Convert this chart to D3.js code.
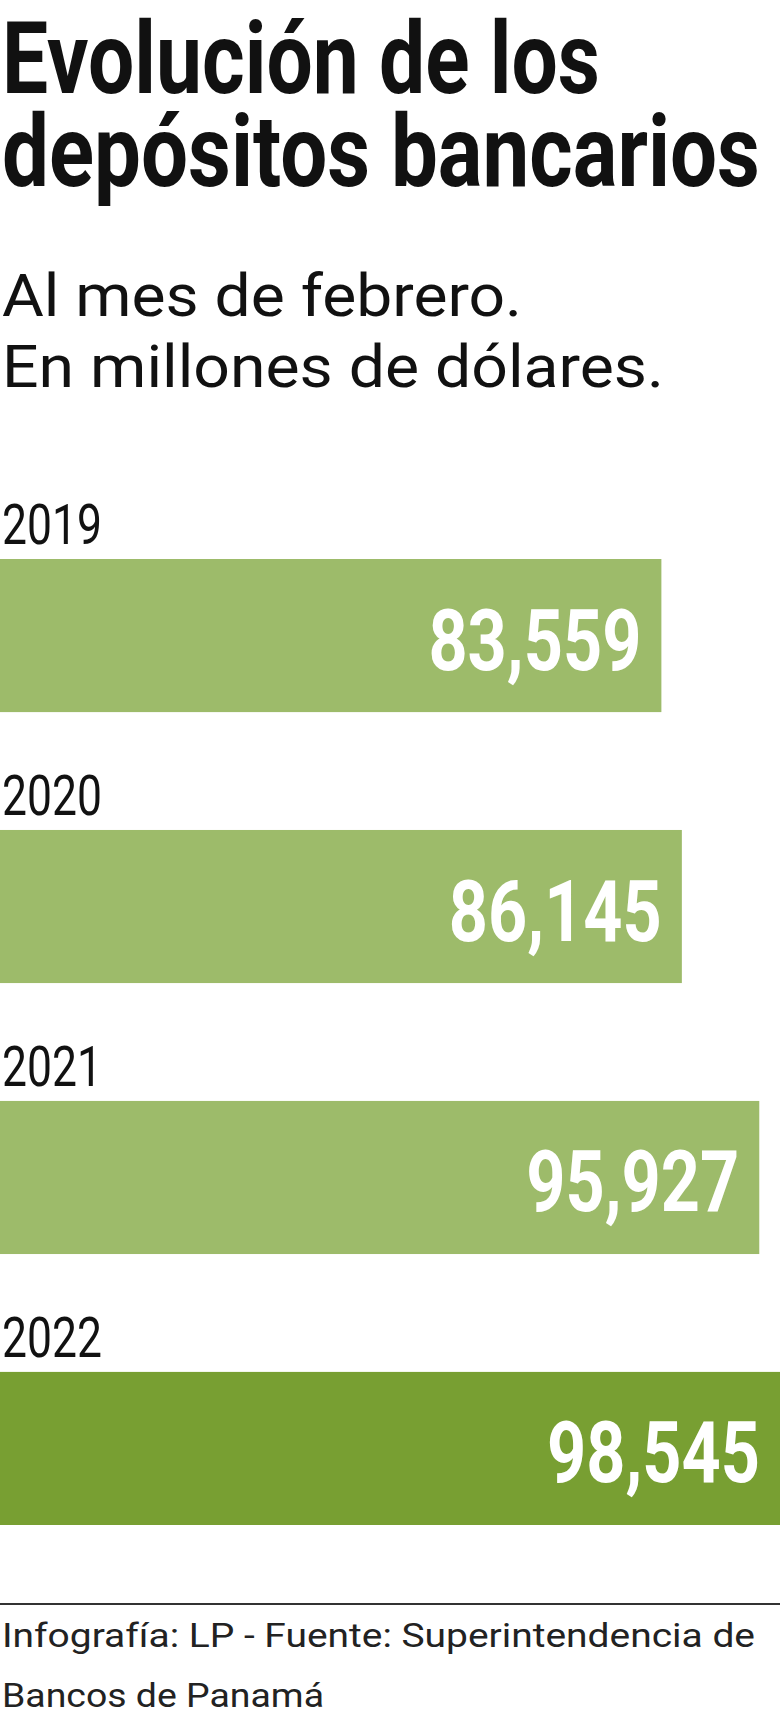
<!DOCTYPE html>
<html><head><meta charset="utf-8">
<script src="https://cdn.jsdelivr.net/npm/d3@7"></script>
<style>body{margin:0;background:#fff}</style>
</head><body>
<svg id="chart" width="780" height="1710"></svg>
<script>
const years = ["2019", "2020", "2021", "2022"];
const values = [83559, 86145, 95927, 98545];
const valueLabels = ["83,559", "86,145", "95,927", "98,545"];

const svg = d3.select("#chart");
const font = "Roboto, 'Liberation Sans', sans-serif";

// condensed look: squeeze text to measured widths
function txt(x, y, s, size, weight, len, fill, anchor) {
  svg.append("text").attr("x", x).attr("y", y).text(s)
    .attr("font-family", font).attr("font-size", size).attr("font-weight", weight)
    .attr("fill", fill || "#111").attr("text-anchor", anchor || "start")
    .attr("textLength", len).attr("lengthAdjust", "spacingAndGlyphs");
}

txt(2, 93, "Evolución de los", 100, 700, 598);
txt(2, 186, "depósitos bancarios", 100, 700, 758);
txt(2, 316, "Al mes de febrero.", 60, 400, 520);
txt(2, 387, "En millones de dólares.", 60, 400, 662);

const x = d3.scaleLinear().domain([0, d3.max(values)]).range([0, 780]);
const y = d3.scaleBand().domain(years).range([559, 1525]).paddingInner(0.435).paddingOuter(0);

years.forEach((yr, i) => {
  const top = y(yr);
  txt(2, top - 15, yr, 56, 400, 100);
  svg.append("rect").attr("x", 0).attr("y", top).attr("width", x(values[i])).attr("height", y.bandwidth())
    .attr("fill", i === years.length - 1 ? "#789f32" : "#9dbb6a");
  txt(x(values[i]) - 20, top + y.bandwidth() / 2 + 34, valueLabels[i], 86, 700, 213, "#fff", "end");
});

svg.append("line").attr("x1", 0).attr("x2", 780).attr("y1", 1604).attr("y2", 1604)
  .attr("stroke", "#333").attr("stroke-width", 2);
txt(2, 1647, "Infografía: LP - Fuente: Superintendencia de", 34, 400, 753, "#222");
txt(2, 1707, "Bancos de Panamá", 34, 400, 322, "#222");
</script>
</body></html>
